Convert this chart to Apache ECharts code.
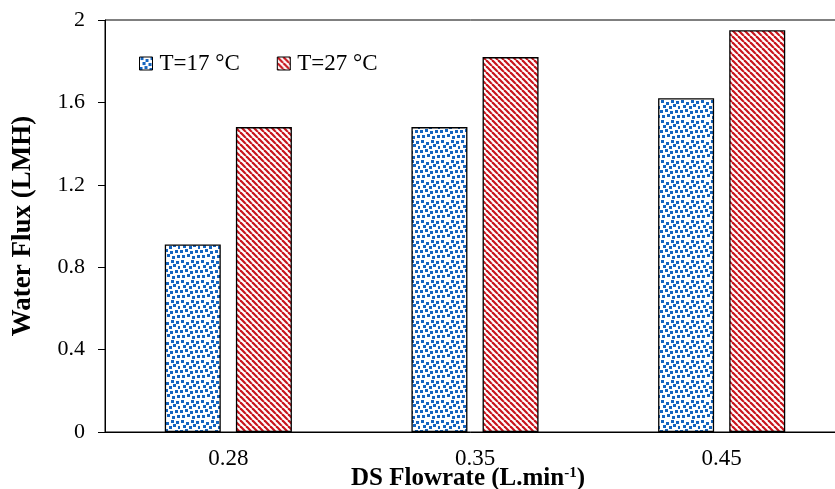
<!DOCTYPE html>
<html><head><meta charset="utf-8">
<script src="https://cdn.jsdelivr.net/npm/echarts@6/dist/echarts.min.js"></script>
<style>html,body{margin:0;padding:0;background:#fff}#c{width:835px;height:489px}</style>
</head><body><div id="c"></div>
<script>
const categories = ['0.28', '0.35', '0.45'];
const seriesNames = ['T=17 °C', 'T=27 °C'];
const flux17 = [0.91, 1.48, 1.62];
const flux27 = [1.48, 1.82, 1.95];
const yTicks = [0, 0.4, 0.8, 1.2, 1.6, 2];

function dotPattern() {
  const c = document.createElement('canvas');
  c.width = 20; c.height = 20;
  const g = c.getContext('2d');
  g.fillStyle = '#fff'; g.fillRect(0, 0, 20, 20);
  g.fillStyle = '#1565c0';
  const pts = [[1,0],[6,2],[11,0],[16,1],[3,5],[9,6],[13,4],[18,6],[0,10],[5,9],[10,11],[15,10],[2,15],[7,14],[12,16],[17,15]];
  pts.forEach(p => g.fillRect(p[0], p[1], 3, 3));
  return c;
}
function stripePattern() {
  const s = 6;
  const c = document.createElement('canvas');
  c.width = s; c.height = s;
  const g = c.getContext('2d');
  g.fillStyle = '#fff'; g.fillRect(0, 0, s, s);
  g.strokeStyle = '#c8141c'; g.lineWidth = 2.2;
  for (let k = -2 * s; k <= 2 * s; k += s) {
    g.beginPath(); g.moveTo(k, 0); g.lineTo(k + s, s); g.stroke();
  }
  return c;
}
const p17 = { image: dotPattern(), repeat: 'repeat' };
const p27 = { image: stripePattern(), repeat: 'repeat' };

const chart = echarts.init(document.getElementById('c'));
const font = '"Liberation Serif","Times New Roman",serif';
chart.setOption({
  animation: false,
  textStyle: { fontFamily: font },
  title: {
    text: 'DS Flowrate (L.min{sup|-1})', left: 351, top: 466, padding: 0,
    textStyle: { fontFamily: font, fontSize: 25, fontWeight: 'bold', color: '#000',
      rich: { sup: { fontSize: 15, fontWeight: 'bold', verticalAlign: 'top', padding: [0, 0, 9, 0], fontFamily: font, color: '#000' } } }
  },
  grid: { left: 105, top: 20, width: 740, height: 412, outerBoundsMode: 'none', containLabel: false,
    show: true, borderColor: '#000', borderWidth: 1, backgroundColor: 'transparent' },
  legend: {
    left: 134, top: 47, itemWidth: 13, itemHeight: 13, itemGap: 37,
    icon: 'rect',
    textStyle: { fontFamily: font, fontSize: 23, color: '#000', padding: [0, 0, 0, 2] },
    itemStyle: { borderColor: '#000', borderWidth: 1 },
    data: seriesNames
  },
  xAxis: {
    type: 'category', data: categories,
    axisLine: { lineStyle: { color: '#000', width: 1 } },
    axisTick: { show: false },
    axisLabel: { fontFamily: font, fontSize: 23, color: '#000', margin: 15 }
  },
  yAxis: {
    type: 'value', min: 0, max: 2, interval: 0.4,
    name: 'Water Flux (LMH)', nameLocation: 'middle', nameGap: 68,
    nameTextStyle: { fontFamily: font, fontSize: 27, fontWeight: 'bold', color: '#000' },
    axisLine: { show: true, lineStyle: { color: '#000', width: 1 } },
    axisTick: { show: true, inside: false, length: 7, lineStyle: { color: '#000' } },
    splitLine: { show: false },
    axisLabel: { fontFamily: font, fontSize: 22, color: '#000', margin: 20,
      formatter: v => yTicks.includes(Math.round(v * 10) / 10) ? String(Math.round(v * 10) / 10) : '' }
  },
  series: [
    { name: seriesNames[0], type: 'bar', data: flux17, barWidth: 56, barGap: '27%',
      itemStyle: { color: p17, borderColor: '#000', borderWidth: 1.3 } },
    { name: seriesNames[1], type: 'bar', data: flux27, barWidth: 56,
      itemStyle: { color: p27, borderColor: '#000', borderWidth: 1.3 } }
  ]
});
</script></body></html>
